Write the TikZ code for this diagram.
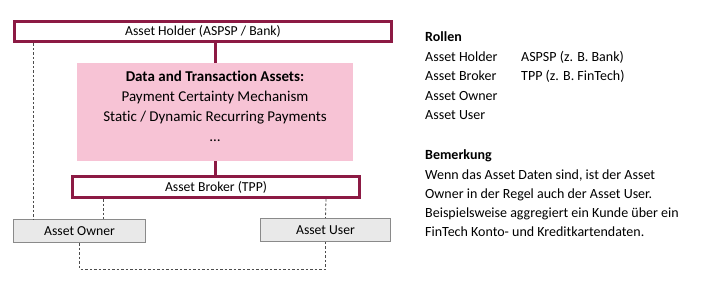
\documentclass[tikz,border=0pt]{standalone}
\usepackage{fontspec}
\setmainfont{Carlito}[Ligatures=NoCommon]
\definecolor{berry}{HTML}{8C1A44}
\definecolor{rosefill}{HTML}{F7C3D5}
\definecolor{greyfill}{HTML}{E9E9E9}
\definecolor{greyline}{HTML}{8A8A8A}
\begin{document}
\begin{tikzpicture}[x=1pt,y=-1pt,
  rolebox/.style={draw=berry,line width=3pt,fill=white,inner sep=0pt,
    font=\fontsize{13.7}{16}\selectfont},
  assetbox/.style={fill=rosefill,inner sep=0pt},
  assettext/.style={inner sep=0pt,align=center,
    font=\fontsize{15}{20}\selectfont},
  partybox/.style={draw=greyline,line width=1pt,fill=greyfill,inner sep=0pt,
    font=\fontsize{13.7}{16}\selectfont},
  link/.style={berry,line width=3pt},
  dashlink/.style={black!70,line width=0.8pt,dash pattern=on 2.5pt off 2pt},
  sidetext/.style={anchor=base west,inner sep=0pt,
    font=\fontsize{14}{19}\selectfont}]
  \useasboundingbox (0,0) rectangle (706,285);
  \node[rolebox,minimum width=377pt,minimum height=20.5pt] (holder) at (203,31.7)
    {Asset Holder (ASPSP / Bank)};
  \node[assetbox,minimum width=276pt,minimum height=98pt] (assets) at (215,112) {};
  \node[assettext] (assetlist) at ([yshift=5.5pt]assets.center)
    {\textbf{Data and Transaction Assets:}\\Payment Certainty Mechanism\\
     Static / Dynamic Recurring Payments\\…};
  \node[rolebox,minimum width=287pt,minimum height=21pt] (broker) at (216,187)
    {Asset Broker (TPP)};
  \node[partybox,minimum width=132pt,minimum height=23pt] (owner) at (79.5,231)
    {Asset Owner};
  \node[partybox,minimum width=130pt,minimum height=23pt] (user) at (325.5,230)
    {Asset User};
  \draw[link] (assets.north |- holder.south) -- (assets.north);
  \draw[link] (assets.south) -- (assets.south |- broker.north);
  \draw[dashlink] ([xshift=20pt]holder.south west) -- ([xshift=20pt]owner.north west);
  \draw[dashlink] ([xshift=32pt]broker.south west) -- ([xshift=90pt]owner.north west);
  \draw[dashlink] ([xshift=-35pt]broker.south east) -- (user.north);
  \coordinate (bend) at (79.5,269);
  \draw[dashlink] (owner.south) -- (bend) -| (user.south);
  \node[sidetext] (rollen) at (425,41) {\textbf{Rollen}};
  \node[sidetext] (holdername) at (425,61) {Asset Holder};
  \node[sidetext] (holderrole) at (521,61) {ASPSP (z. B. Bank)};
  \node[sidetext] (brokername) at (425,80) {Asset Broker};
  \node[sidetext] (brokerrole) at (521,80) {TPP (z. B. FinTech)};
  \node[sidetext] (ownername) at (425,100) {Asset Owner};
  \node[sidetext] (username) at (425,119) {Asset User};
  \node[sidetext] (bemerkung) at (425,159) {\textbf{Bemerkung}};
  \node[sidetext] (lineone) at (425,179) {Wenn das Asset Daten sind, ist der Asset};
  \node[sidetext] (linetwo) at (425,198) {Owner in der Regel auch der Asset User.};
  \node[sidetext] (linethree) at (425,217) {Beispielsweise aggregiert ein Kunde über ein};
  \node[sidetext] (linefour) at (425,236) {FinTech Konto- und Kreditkartendaten.};
\end{tikzpicture}
\end{document}
